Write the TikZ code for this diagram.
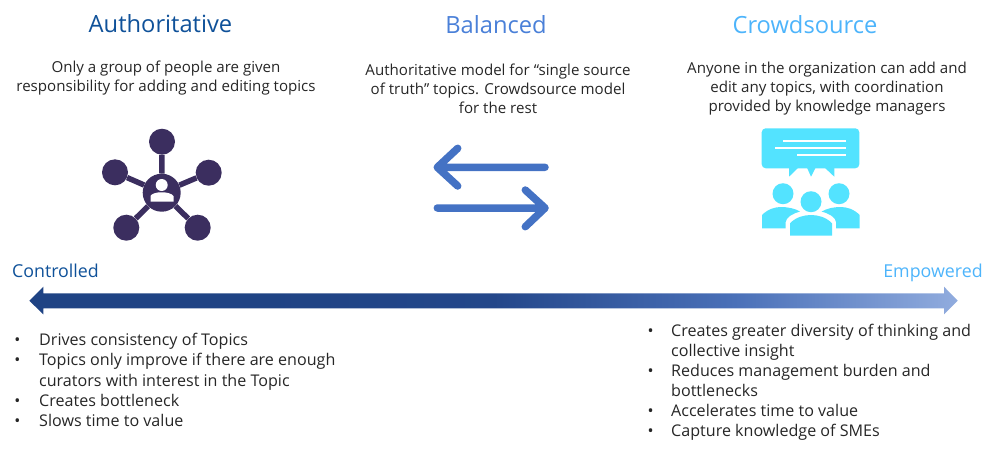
\documentclass[tikz,border=0pt]{standalone}
\usepackage{fontspec}
\setmainfont{Open Sans}
\definecolor{authblue}{HTML}{0F5199}
\definecolor{balblue}{HTML}{4A80D8}
\definecolor{crowdblue}{HTML}{4DB4FB}
\definecolor{hubpurple}{HTML}{3B2E5F}
\definecolor{iconcyan}{HTML}{53E3FF}
\definecolor{swapblue}{HTML}{4472C4}
\definecolor{bodygrey}{HTML}{262626}
\definecolor{scaleA}{HTML}{1F4384}
\definecolor{scaleB}{HTML}{24478A}
\definecolor{scaleC}{HTML}{4A70B8}
\definecolor{scaleD}{HTML}{91ACDE}
\pgfdeclarehorizontalshading{scaleshade}{100bp}{
  color(0bp)=(scaleA); color(37.5bp)=(scaleA); color(50bp)=(scaleB);
  color(63bp)=(scaleC); color(75bp)=(scaleD); color(100bp)=(scaleD)}
\tikzset{
  heading/.style={font=\fontsize{23.7}{28}\selectfont, anchor=center},
  blurb/.style={font=\fontsize{15.1}{19}\selectfont, text=bodygrey, align=center, anchor=center},
  endlabel/.style={font=\fontsize{17.8}{20}\selectfont, anchor=center},
  bulletline/.style={font=\fontsize{16.1}{19}\selectfont, text=bodygrey, anchor=base west, inner sep=0pt},
  bulletdot/.style={font=\fontsize{16}{19}\selectfont, text=bodygrey, anchor=base, inner sep=0pt},
  spoke/.style={circle, fill=hubpurple, inner sep=0pt, minimum size=26pt},
  swap/.style={draw=swapblue, line width=7.5pt, line cap=round, line join=round},
}
\begin{document}
\begin{tikzpicture}[x=1pt,y=-1pt]
\useasboundingbox (0,0) rectangle (999,451);
% headings
\node[heading,text=authblue]  (auth)  at (160.5,24) {Authoritative};
\node[heading,text=balblue]   (bal)   at (496,25) {Balanced};
\node[heading,text=crowdblue] (crowd) at (805,25) {Crowdsource};
\node[blurb] (authtext)  at (166,78.5)  {Only a group of people are given\\responsibility for adding and editing topics};
\node[blurb] (baltext)   at (498,88.5)  {Authoritative model for “single source\\of truth” topics. Crowdsource model\\for the rest};
\node[blurb] (crowdtext) at (827,88.5)  {Anyone in the organization can add and\\edit any topics, with coordination\\provided by knowledge managers};
% hub icon
\node[circle,fill=hubpurple,inner sep=0pt,minimum size=38pt] (hub) at (161.7,192.7) {};
\node[spoke] (top)  at (162,141.7) {};
\node[spoke] (lft)  at (115,172.3) {};
\node[spoke] (rgt)  at (208.7,172.7) {};
\node[spoke] (botl) at (126.3,227.7) {};
\node[spoke] (botr) at (197.7,227.7) {};
\foreach \s in {top,lft,rgt,botl,botr}
  \draw[hubpurple,line width=5.5pt] (hub) -- (\s);
\fill[white] (161.7,185) circle (6);
\fill[white] (150.5,201.7) -- (150.5,196) .. controls (153,191) and (170,191) .. (173.5,196) -- (173.5,201.7) -- cycle;
% swap arrows
\coordinate (a1) at (545,167.3);
\coordinate (a2) at (437.3,167.3);
\coordinate (a3) at (457.7,148.3);
\coordinate (a4) at (457.7,186);
\coordinate (b1) at (437.3,208);
\coordinate (b2) at (545,208);
\coordinate (b3) at (525.3,190);
\coordinate (b4) at (525.3,226.7);
\draw[swap] (a1) -- (a2) (a3) -- (a2) -- (a4);
\draw[swap] (b1) -- (b2) (b3) -- (b2) -- (b4);
% crowd icon
\fill[iconcyan,rounded corners=4pt] (761.7,128.3) rectangle (859.3,168.3);
\fill[iconcyan] (789,167) -- (789,176.7) -- (799,167) -- cycle;
\fill[iconcyan] (806.7,167) -- (811,176.7) -- (816,167) -- cycle;
\fill[iconcyan] (824,167) -- (834.3,176.7) -- (834.3,167) -- cycle;
\draw[white,line width=2.2pt] (783.3,141) -- (846,141) (775.3,148.3) -- (846,148.3) (797,155.3) -- (846,155.3);
\fill[iconcyan] (783,193.7) circle (10.5) (839,193.7) circle (10.5) (811,201.7) circle (10.5);
\fill[iconcyan] (762,228.3) -- (762,215) .. controls (768,209) and (775,207) .. (781,207) .. controls (788,207) and (795,208.5) .. (800,211.5) .. controls (793,213.5) and (786,217) .. (785.5,222.5) -- (785.5,228.3) -- cycle;
\fill[iconcyan] (859.7,228.3) -- (859.7,215) .. controls (853.7,209) and (846.7,207) .. (840.7,207) .. controls (833.7,207) and (826.7,208.5) .. (821.7,211.5) .. controls (828.7,213.5) and (835.7,217) .. (836.2,222.5) -- (836.2,228.3) -- cycle;
\fill[iconcyan] (790,235.7) -- (790,223.3) .. controls (796,217) and (804,215) .. (811,215) .. controls (818,215) and (826,217) .. (832,223.3) -- (832,235.7) -- cycle;
% scale
\node[endlabel,text=authblue] (ctrl) at (55.5,271) {Controlled};
\node[endlabel,text=crowdblue] (emp) at (933,273) {Empowered};
\shade[shading=scaleshade] (29.3,300.7) -- (43.3,286.7) -- (43.3,293.3) -- (944,293.3) -- (944,286.7) -- (957.7,300.7) -- (944,314.3) -- (944,308.3) -- (43.3,308.3) -- (43.3,314.3) -- cycle;
% pros left
\foreach \i/\y/\t in {1/345.7/Drives consistency of Topics,2/365.7/Topics only improve if there are enough,3/386.2/curators with interest in the Topic,4/406.7/Creates bottleneck,5/426.7/Slows time to value}
  \node[bulletline] (l\i) at (39,\y) {\t};
\foreach \i/\y in {1/345.7,2/365.7,4/406.7,5/426.7}
  \node[bulletdot] (ld\i) at (17.5,\y) {•};
% pros right
\foreach \i/\y/\t in {1/336/Creates greater diversity of thinking and,2/356/collective insight,3/376/Reduces management burden and,4/396/bottlenecks,5/416.2/Accelerates time to value,6/436.2/Capture knowledge of SMEs}
  \node[bulletline] (r\i) at (671,\y) {\t};
\foreach \i/\y in {1/336,3/376,5/416.2,6/436.2}
  \node[bulletdot] (rd\i) at (650.7,\y) {•};
\end{tikzpicture}
\end{document}
